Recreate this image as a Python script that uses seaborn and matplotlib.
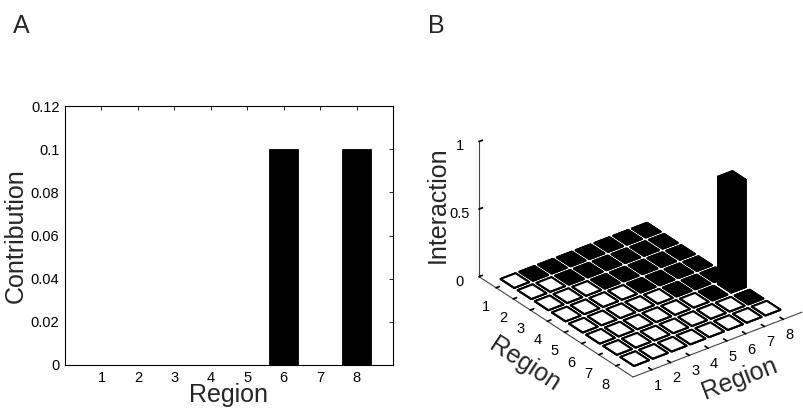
import numpy as np
import pandas as pd
import matplotlib
matplotlib.use("Agg")
import matplotlib.pyplot as plt
import seaborn as sns
from mpl_toolkits.mplot3d import proj3d

# ---------------- data ----------------
regions = [1, 2, 3, 4, 5, 6, 7, 8]
contribution = [0, 0, 0, 0, 0, 0.1, 0, 0.1]
contrib_yticks = [0, 0.02, 0.04, 0.06, 0.08, 0.1, 0.12]
interaction_pair = (6, 8)          # (row region, column region)
interaction_value = 0.8
interaction_zticks = [0, 0.5, 1]

sns.set_theme(style="white")
plt.rcParams["font.family"] = ["Liberation Sans", "DejaVu Sans"]

W, H = 804, 409
fig = plt.figure(figsize=(W / 100, H / 100), dpi=100)

# ---------------- panel A ----------------
axA = fig.add_axes([65 / W, 1 - 365 / H, (393 - 65) / W, (365 - 106) / H])
dfA = pd.DataFrame({"Region": regions, "Contribution": contribution})
sns.barplot(data=dfA, x="Region", y="Contribution", native_scale=True,
            color="black", saturation=1, width=0.8, edgecolor="black",
            linewidth=0.6, ax=axA)
axA.set_xlim(0, 9)
axA.set_ylim(0, 0.12)
axA.set_xticks(regions)
axA.set_xticklabels([str(r) for r in regions])
axA.set_yticks(contrib_yticks)
axA.set_yticklabels(["%g" % v for v in contrib_yticks])
axA.tick_params(direction="in", top=True, right=True, length=3, width=0.6,
                labelsize=10.5, colors="black", pad=4)
for s in axA.spines.values():
    s.set_visible(True)
    s.set_color("black")
    s.set_linewidth(0.8)
axA.set_xlabel("Region", fontsize=18, labelpad=-1)
axA.set_ylabel("Contribution", fontsize=18, labelpad=2)

# ---------------- panel B ----------------
axB = fig.add_axes([0.5, 0.0, 0.5, 1.0], projection="3d")
axB.set_proj_type("ortho")
axB.view_init(elev=30, azim=-37.5)
axB.set_box_aspect((253, 213, 156))
axB.computed_zorder = False

n = len(regions)
R, C = np.meshgrid(regions, regions, indexing="ij")
Z = np.zeros((n, n))
Z[interaction_pair[0] - 1, interaction_pair[1] - 1] = interaction_value
rr, cc, zz = R.ravel(), C.ravel(), Z.ravel()
upper = cc > rr
bw = 0.8

flat = zz == 0
for mask, fc in [(flat & ~upper, "white"), (flat & upper, "black")]:
    axB.bar3d(rr[mask] - bw / 2, cc[mask] - bw / 2, np.zeros(mask.sum()),
              bw, bw, zz[mask], color=fc, edgecolor="black", linewidth=1.4,
              shade=False)
tall = ~flat
axB.bar3d(rr[tall] - bw / 2, cc[tall] - bw / 2, np.zeros(tall.sum()),
          bw, bw, zz[tall], color="black", edgecolor="black", linewidth=0.6,
          shade=False)

axB.set_xlim(0, 9)
axB.set_ylim(0, 9)
axB.set_zlim(0, 1)
axB.set_xticks(regions)
axB.set_yticks(regions)
axB.set_zticks(interaction_zticks)
axB.set_zticklabels(["%g" % v for v in interaction_zticks])
axB.grid(False)
for a in (axB.xaxis, axB.yaxis, axB.zaxis):
    a.set_pane_color((1, 1, 1, 0))
    a.pane.set_edgecolor((1, 1, 1, 0))
    a.line.set_color("#444444")
    a.line.set_linewidth(0.8)
    a._axinfo["tick"]["inward_factor"] = 0.0
    a._axinfo["tick"]["outward_factor"] = 0.25
axB.zaxis.set_ticks_position("lower")
axB.zaxis.set_label_position("lower")
axB.tick_params(labelsize=10.5, colors="black", pad=0)
axB.tick_params(axis="y", pad=-3)
axB.set_xlabel("Region", fontsize=18, labelpad=4)
axB.set_ylabel("Region", fontsize=18, labelpad=-2)
axB.set_zlabel("Interaction", fontsize=18, labelpad=-4)

# fit the projected box onto the target pixel corners
targets = {  # (row, col, z) : (x_px, y_px from top)
    (0, 0, 0): (479, 277),
    (9, 9, 0): (802, 313),
    (9, 0, 0): (632, 377),
    (0, 0, 1): (479, 141),
}
for _ in range(3):
    fig.canvas.draw()
    pos = axB.get_position()
    S0 = pos.width * W
    c0 = np.array([(pos.x0 + pos.width / 2) * W, (pos.y0 + pos.height / 2) * H])
    M = axB.get_proj()
    u = {}
    for k in targets:
        X, Y, _ = proj3d.proj_transform(k[0], k[1], k[2], M)
        d = axB.transData.transform((X, Y))
        u[k] = (np.array(d) - c0) / S0
    tgt = {k: np.array([v[0], H - v[1]]) for k, v in targets.items()}
    S = (tgt[(9, 9, 0)][0] - tgt[(0, 0, 0)][0]) / (u[(9, 9, 0)][0] - u[(0, 0, 0)][0])
    cx = tgt[(0, 0, 0)][0] - S * u[(0, 0, 0)][0]
    cy = tgt[(9, 0, 0)][1] - S * u[(9, 0, 0)][1]
    axB.set_position([(cx - S / 2) / W, (cy - S / 2) / H, S / W, S / H])

fig.text(13 / W, 1 - 33 / H, "A", fontsize=18, va="baseline")
fig.text(428 / W, 1 - 33 / H, "B", fontsize=18, va="baseline")

fig.savefig("out.png", dpi=100)
